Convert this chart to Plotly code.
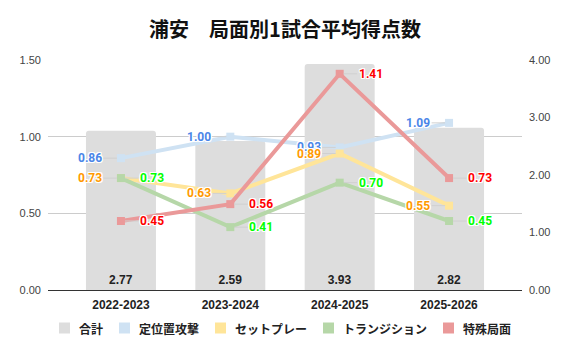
import plotly.graph_objects as go

categories = ["2022-2023", "2023-2024", "2024-2025", "2025-2026"]
total = [2.77, 2.59, 3.93, 2.82]
positional = [0.86, 1.00, 0.93, 1.09]
setplay = [0.73, 0.63, 0.89, 0.55]
transition = [0.73, 0.41, 0.70, 0.45]
special = [0.45, 0.56, 1.41, 0.73]
left_ticks = [0, 0.5, 1.0, 1.5]
right_ticks = [0, 1, 2, 3, 4]

title_text = "浦安　局面別1試合平均得点数"
total_name = "合計"
series = [
    ("定位置攻撃", positional, "#cfe2f3", "#4a86e8", -1),
    ("セットプレー", setplay, "#ffe599", "#ff9900", -1),
    ("トランジション", transition, "#b6d7a8", "#00ff00", 1),
    ("特殊局面", special, "#ea9999", "#ff0000", 1),
]

JP = "Noto Sans CJK JP"
NUM = "Liberation Sans, Arial, sans-serif"
LBL = "Roboto, sans-serif"
halo = ("1px 1px 0 #fff, -1px -1px 0 #fff, 1px -1px 0 #fff, -1px 1px 0 #fff, "
        "0 1px 0 #fff, 0 -1px 0 #fff, 1px 0 0 #fff, -1px 0 0 #fff")

W, H = 570, 353
ML, MR, MT, MB = 48, 48, 60, 63
PW, PH = W - ML - MR, H - MT - MB


def px_x(px):
    return (px - ML) / PW


def px_y(py):
    return (H - MB - py) / PH


fig = go.Figure()

fig.add_trace(go.Bar(
    x=categories, y=total, yaxis="y", name=total_name, showlegend=False,
    marker=dict(color="#dddddd", line=dict(width=0), cornerradius=3),
    width=0.64,
    text=[f"{v:.2f}" for v in total], textposition="inside",
    insidetextanchor="start", textangle=0,
    textfont=dict(color="#222222", size=12, family=NUM, weight="bold"),
    hoverinfo="skip",
))

annotations = []
for name, vals, col, lcol, side in series:
    fig.add_trace(go.Scatter(
        x=categories, y=vals, yaxis="y2", name=name, showlegend=False,
        mode="lines+markers",
        line=dict(color=col, width=4),
        marker=dict(symbol="square", size=8, color=col),
        hoverinfo="skip",
    ))
    for c, v in zip(categories, vals):
        annotations.append(dict(
            x=c, y=v, xref="x", yref="y2", text=f"{v:.2f}",
            showarrow=True, arrowhead=0, arrowwidth=1, arrowcolor="#d0d0d0",
            ax=31 * side, ay=0, standoff=4,
            font=dict(color=lcol, size=12, family=LBL, weight="bold", shadow=halo),
        ))

# legend (drawn manually to match spacing)
legend_items = [(total_name, "#dddddd")] + [(s[0], s[2]) for s in series]
legend_sq_x = [59, 119, 215, 323, 443]
shapes = []
LEG_Y = 328
for (name, col), sx in zip(legend_items, legend_sq_x):
    shapes.append(dict(type="rect", xref="paper", yref="paper",
                       x0=px_x(sx), x1=px_x(sx + 11),
                       y0=px_y(LEG_Y + 5.5), y1=px_y(LEG_Y - 5.5),
                       fillcolor=col, line=dict(width=0)))
    annotations.append(dict(x=px_x(sx + 18), y=px_y(LEG_Y), xref="paper", yref="paper",
                            text=name, showarrow=False, xanchor="left", yanchor="middle",
                            font=dict(family=JP, size=12, color="#222222", weight="bold")))

fig.update_layout(
    width=W, height=H,
    margin=dict(l=ML, r=MR, t=MT, b=MB),
    paper_bgcolor="white", plot_bgcolor="white",
    showlegend=False,
    title=dict(text=title_text, x=0.5, xanchor="center", xref="container",
               y=1 - 30 / H, yanchor="middle",
               font=dict(family=JP, size=20, color="#111111", weight="bold")),
    xaxis=dict(
        type="category", categoryorder="array", categoryarray=categories,
        range=[-0.667, 3.667], showline=True, linecolor="#333333", linewidth=1,
        showgrid=False, ticks="", ticklabelstandoff=4,
        tickfont=dict(family=NUM, size=12, color="#222222", weight="bold"),
    ),
    yaxis=dict(
        side="right", range=[0, 4], tickvals=right_ticks,
        ticktext=[f"{v:.2f}" for v in right_ticks],
        showgrid=False, zeroline=False, ticks="", ticklabelstandoff=6,
        tickfont=dict(family=NUM, size=11, color="#444444"),
    ),
    yaxis2=dict(
        overlaying="y", side="left", range=[0, 1.5], tickvals=left_ticks,
        ticktext=[f"{v:.2f}" for v in left_ticks],
        showgrid=True, gridcolor="#cccccc", gridwidth=1, zeroline=False,
        ticks="", ticklabelstandoff=6,
        tickfont=dict(family=NUM, size=11, color="#444444"),
    ),
    annotations=annotations,
    shapes=shapes,
)

fig.write_html("out.html")
